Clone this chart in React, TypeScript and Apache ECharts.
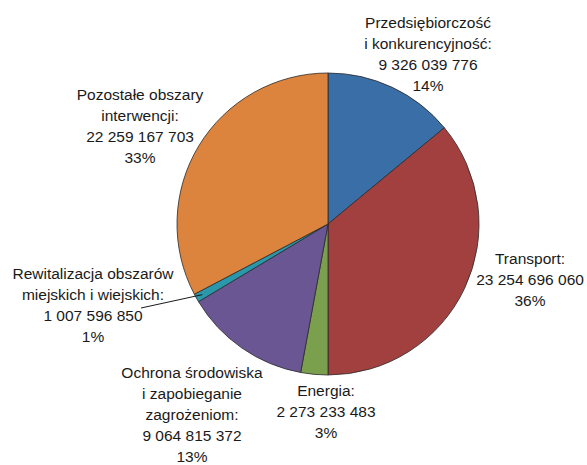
import React, { useEffect, useRef } from "react";
import * as echarts from "echarts";

const categories = [
  "Przedsiębiorczość\ni konkurencyjność:",
  "Transport:",
  "Energia:",
  "Ochrona środowiska\ni zapobieganie\nzagrożeniom:",
  "Rewitalizacja obszarów\nmiejskich i wiejskich:",
  "Pozostałe obszary\ninterwencji:",
];
// amounts printed in the labels
const amounts = [9326039776, 23254696060, 2273233483, 9064815372, 1007596850, 22259167703];
// slice shares (%) as drawn in the picture
const shares = [14.0, 36.0, 2.9, 13.5, 0.9, 32.7];
const percentLabels = ["14%", "36%", "3%", "13%", "1%", "33%"];
const colors = ["#3a6ea6", "#a1403e", "#7ba04d", "#6a5692", "#2a97ab", "#dc843d"];
const labelPos: [number, number][] = [
  [428, 54],
  [530, 279],
  [326, 411],
  [192, 414],
  [93, 305],
  [140, 126],
];

const CX = 328;
const CY = 224;
const R = 151;

const fmt = (v: number) => String(v).replace(/\B(?=(\d{3})+(?!\d))/g, " ");

export default function App() {
  const ref = useRef<HTMLDivElement>(null);
  useEffect(() => {
    if (!ref.current) return;
    const chart = echarts.init(ref.current, null, { renderer: "svg" });
    const total = shares.reduce((a, b) => a + b, 0);
    const before = shares.slice(0, 4).reduce((a, b) => a + b, 0);
    const mid = ((before + shares[4] / 2) / total) * Math.PI * 2;
    const lr = R * 0.955;
    const sx = CX + lr * Math.sin(mid);
    const sy = CY - lr * Math.cos(mid);
    chart.setOption({
      animation: false,
      backgroundColor: "#ffffff",
      graphic: [
        {
          type: "line",
          shape: { x1: 141, y1: 308, x2: sx, y2: sy },
          style: { stroke: "#1a1a1a", lineWidth: 1 },
          z: 10,
        },
      ],
      series: [
        {
          type: "pie",
          center: [CX, CY],
          radius: R,
          startAngle: 90,
          clockwise: true,
          avoidLabelOverlap: false,
          itemStyle: { borderColor: "#2a2a2a", borderWidth: 0.8 },
          label: {
            show: true,
            position: "outside",
            fontFamily: "'Liberation Sans', Arial, sans-serif",
            fontSize: 15.5,
            lineHeight: 21,
            color: "#1a1a1a",
            align: "center",
            formatter: (p: any) =>
              `${categories[p.dataIndex]}\n${fmt(amounts[p.dataIndex])}\n${percentLabels[p.dataIndex]}`,
          },
          labelLine: { show: false },
          labelLayout: (params: any) => {
            const [x, y] = labelPos[params.dataIndex];
            return { x, y, align: "center", verticalAlign: "middle" };
          },
          data: shares.map((v, i) => ({
            value: v,
            name: categories[i],
            itemStyle: { color: colors[i] },
          })),
        },
      ],
    });
    return () => chart.dispose();
  }, []);
  return (
    <div
      ref={ref}
      style={{ position: "absolute", left: 0, top: 0, width: 587, height: 465 }}
    />
  );
}
